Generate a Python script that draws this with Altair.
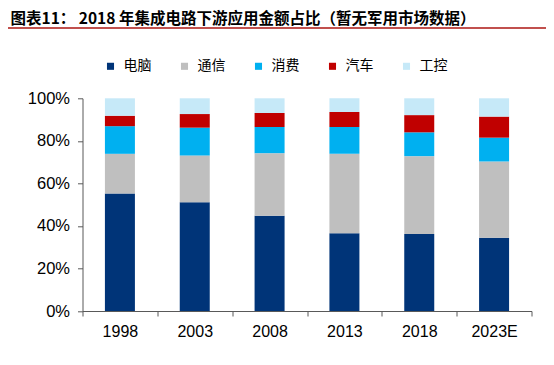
import altair as alt
import pandas as pd

years = ["1998", "2003", "2008", "2013", "2018", "2023E"]
segments = ["电脑", "通信", "消费", "汽车", "工控"]
colors = ["#003478", "#BFBFBF", "#00B0F0", "#C00000", "#C6E9F8"]

pc = [55.3, 51.1, 44.8, 36.5, 36.2, 34.4]
comm = [18.6, 22.0, 29.4, 37.4, 36.6, 35.9]
consumer = [13.0, 13.1, 12.3, 12.6, 11.2, 11.2]
auto = [4.9, 6.4, 6.6, 7.1, 8.1, 9.9]
industrial = [8.2, 7.4, 6.9, 6.4, 7.9, 8.6]

title_text = "图表11：  2018 年集成电路下游应用金额占比（暂无军用市场数据）"

series = [pc, comm, consumer, auto, industrial]
rows = []
for si, (name, vals) in enumerate(zip(segments, series)):
    for y, v in zip(years, vals):
        rows.append({"year": y, "seg": name, "val": v / 100.0, "ord": si})
df = pd.DataFrame(rows)

font = "Liberation Sans"
cjk = "Noto Sans CJK SC"

bars = alt.Chart(df).mark_bar(size=30).encode(
    x=alt.X("year:N", sort=years, title=None,
            scale=alt.Scale(paddingInner=0, paddingOuter=0),
            axis=alt.Axis(labelAngle=0, tickBand="extent", tickSize=5,
                          labelPadding=7, labelFontSize=16, labelFont=font,
                          labelColor="#000000", domainColor="#595959",
                          tickColor="#595959", grid=False)),
    y=alt.Y("val:Q", stack="zero", title=None,
            scale=alt.Scale(domain=[0, 1], nice=False),
            axis=alt.Axis(format=".0%", values=[0, 0.2, 0.4, 0.6, 0.8, 1.0],
                          tickSize=5, labelPadding=8, labelFontSize=16.5,
                          labelFont=font, labelColor="#000000",
                          domainColor="#595959", tickColor="#595959",
                          grid=False)),
    color=alt.Color("seg:N", sort=segments,
                    scale=alt.Scale(domain=segments, range=colors),
                    legend=alt.Legend(orient="none", direction="horizontal",
                                      legendX=21, legendY=-39, title=None,
                                      symbolType="square", symbolSize=50,
                                      symbolStrokeWidth=0, labelFont=cjk,
                                      labelFontSize=14, labelColor="#000000",
                                      labelOffset=6, columnPadding=26)),
    order=alt.Order("ord:Q", sort="ascending"),
)

title = alt.Chart(pd.DataFrame({"t": [title_text]})).mark_text(
    font=cjk, fontSize=15.5, fontWeight="bold", color="#000000",
    align="left", baseline="middle"
).encode(text="t:N", x=alt.value(-72), y=alt.value(-79))

top_line = alt.Chart(df).mark_rule(color="#C0504D", strokeWidth=1.5, opacity=0.8).encode(
    x=alt.value(-74.5), x2=alt.value(464.5), y=alt.value(-70)
)
bottom_line = alt.Chart(df).mark_rule(color="#C0504D", strokeWidth=2.5, opacity=0.7).encode(
    x=alt.value(-74.5), x2=alt.value(462.5), y=alt.value(260.7)
)

chart = alt.layer(bars, title, top_line, bottom_line).properties(
    width=449, height=212.7,
    autosize=alt.AutoSizeParams(type="none"),
    padding={"left": 74.5, "top": 90.3, "right": 14.5, "bottom": 46},
).configure_view(stroke=None)

chart.save("out.html", embed_options={"renderer": "svg", "actions": False})
